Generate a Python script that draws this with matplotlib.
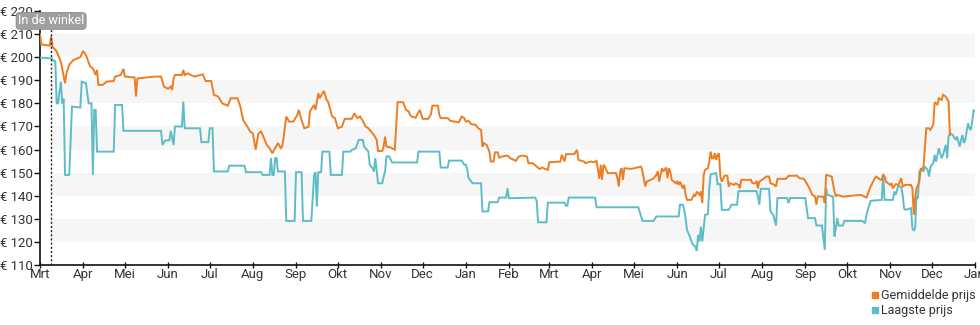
import numpy as np
import matplotlib
matplotlib.use("Agg")
import matplotlib.pyplot as plt
import matplotlib.dates as mdates
from matplotlib.lines import Line2D
from matplotlib.ticker import FuncFormatter

plt.rcParams['font.family'] = ['Roboto', 'DejaVu Sans']

# Price history, day offsets counted from the first day of tracking
start_date = np.datetime64('2023-03-01')
end_date = np.datetime64('2025-01-01')
store_day = 8  # product appeared "in de winkel"

avg_day = [0, 1, 7, 8, 9, 12, 15, 18, 19, 21, 24, 29, 31, 33, 36, 38, 40, 41, 42, 45, 48, 53, 54, 58,
           60, 61, 68, 69, 70, 83, 87, 89, 92, 94, 95, 96, 97, 102, 103, 104, 106, 111, 117, 119, 123,
           125, 128, 131, 135, 137, 142, 144, 146, 149, 151, 153, 155, 157, 159, 161, 163, 165, 167,
           169, 171, 173, 174, 175, 177, 179, 182, 185, 186, 188, 190, 193, 194, 197, 198, 200, 201,
           204, 206, 207, 210, 212, 214, 217, 219, 224, 226, 228, 230, 232, 234, 236, 238, 240, 242,
           243, 246, 247, 248, 249, 252, 255, 257, 261, 263, 265, 266, 267, 270, 271, 273, 275, 279,
           281, 282, 286, 287, 288, 293, 295, 301, 303, 305, 306, 308, 310, 313, 315, 317, 318, 319,
           321, 323, 324, 326, 327, 329, 330, 332, 336, 338, 339, 342, 344, 347, 350, 351, 354, 357,
           359, 361, 363, 365, 366, 374, 375, 377, 378, 384, 385, 386, 387, 391, 392, 396, 398, 400,
           402, 403, 404, 405, 406, 408, 414, 415, 416, 417, 418, 419, 420, 425, 429, 432, 433, 435,
           436, 439, 441, 443, 444, 445, 447, 448, 450, 451, 452, 453, 454, 457, 458, 459, 460, 462,
           463, 464, 465, 468, 469, 470, 471, 472, 474, 475, 476, 477, 478, 480, 481, 482, 483, 484,
           485, 486, 487, 488, 489, 490, 492, 494, 495, 496, 499, 500, 502, 503, 504, 511, 512, 514,
           515, 516, 517, 519, 522, 524, 525, 527, 529, 530, 536, 538, 544, 546, 549, 551, 553, 555,
           557, 558, 559, 561, 563, 564, 565, 567, 569, 571, 572, 573, 577, 590, 594, 597, 600, 601,
           604, 605, 606, 607, 608, 611, 612, 613, 615, 617, 619, 620, 622, 626, 627, 628, 629, 630,
           632, 633, 634, 635, 637, 639, 640, 642, 643, 644, 645, 646, 648, 649, 651, 653, 654]
avg_price = [210, 205.5, 205, 209, 204.5, 202.5, 198, 188.7, 193, 196.7, 198.8, 200, 202.7, 201, 196,
             195.2, 192.3, 194.5, 188, 188, 189.4, 189.7, 191.6, 192.3, 195, 191.6, 191.2, 183, 190.8,
             191.6, 191.6, 187.3, 186.3, 187.3, 185.8, 190.8, 192.3, 192.3, 194.5, 192.3, 193, 191.6,
             192.6, 189.7, 189.7, 183.7, 183, 180, 179, 182.2, 182.2, 178.6, 172.8, 170, 167.8, 167,
             159.9, 167, 167.8, 164.9, 162, 160.6, 158.4, 160.6, 162.8, 160.6, 161.3, 164.9, 174.3,
             172.1, 172.1, 175, 177.2, 172.8, 169.2, 169.9, 176.5, 179.3, 177.2, 184.4, 182.2, 185.4,
             181.5, 180.8, 174.3, 173.6, 169.2, 169.9, 173.3, 173.3, 175.7, 173.6, 174.3, 172.4, 170,
             169.2, 167.8, 166.3, 164.2, 159.4, 159.4, 161.3, 165.6, 161.3, 160.9, 159.9, 180.5,
             180.5, 177.2, 176.5, 175, 174.3, 173.8, 175, 177.2, 173.3, 173.3, 175.3, 179, 179, 175,
             173.6, 173.6, 172.4, 171.8, 174.3, 173.6, 172.1, 172.4, 171, 170.7, 169.2, 168.5, 161.3,
             162.8, 162, 159.1, 154.8, 154.8, 158.8, 158.8, 156.5, 157, 157.4, 156.2, 156, 155.1, 157,
             157.4, 157, 154.1, 154.1, 152.6, 151.6, 152.2, 151.6, 151.2, 154.5, 154.8, 157.7, 154.8,
             158, 158, 159.1, 159.8, 155.5, 154.8, 154.1, 154.8, 154.5, 155.1, 147.3, 153.4, 146.9,
             153.4, 152.6, 149.8, 149.8, 147.6, 144, 150.5, 151.9, 146.9, 151.9, 151.6, 152.2, 152.6,
             150.5, 144, 146.1, 146.9, 147.6, 149, 150.5, 146.1, 151.9, 150.5, 152.2, 147.6, 151.9,
             150.5, 146.9, 145.4, 146.1, 144.7, 146.1, 143.2, 144.7, 140.4, 138.2, 138.2, 139.2,
             140.4, 139.7, 141.8, 140.4, 141.8, 136.8, 149, 151.2, 151.9, 154.8, 159.1, 156.2, 156.2,
             158.4, 155.5, 157.7, 158.4, 148.3, 146.1, 148.7, 148.7, 144, 145.4, 144.7, 145.4, 144.7,
             143.2, 146.9, 146.9, 145.4, 145.4, 146.4, 143.2, 146.1, 146.9, 148.3, 148.3, 145.4, 145,
             144, 147.3, 147.3, 148.6, 148.7, 147.6, 147.3, 145.4, 143.2, 140.4, 139.7, 136.1, 139.7,
             139.6, 139.6, 136.8, 149, 148.7, 148.3, 141.8, 139.6, 140.4, 139.6, 140.4, 139.2, 144,
             147.6, 148.3, 146.9, 146.9, 149.3, 148.3, 146.1, 144.7, 145.4, 143.2, 145, 144.7, 147.6,
             144, 144.7, 144.7, 143.2, 131.7, 138.9, 143.2, 146.1, 151.9, 151.2, 152.6, 169.2, 169.2,
             168.5, 170.7, 180.5, 180, 179.3, 182.2, 181.5, 183.7, 182.9, 180.8, 166.3]

low_day = [0, 8, 10, 11, 12, 13, 15, 16, 17, 18, 21, 23, 29, 30, 33, 35, 37, 38, 39, 40, 41, 53, 54,
           59, 60, 87, 88, 90, 93, 94, 96, 97, 102, 103, 104, 115, 116, 121, 122, 124, 125, 135, 136,
           147, 148, 159, 160, 165, 166, 167, 168, 169, 170, 171, 176, 177, 183, 184, 188, 189, 195,
           197, 198, 199, 200, 202, 203, 208, 209, 217, 218, 223, 224, 227, 229, 232, 233, 235, 236,
           237, 239, 240, 241, 242, 243, 246, 247, 248, 249, 251, 253, 271, 272, 287, 288, 293, 294,
           303, 305, 306, 307, 308, 311, 317, 318, 322, 323, 329, 330, 335, 336, 337, 356, 357, 358,
           364, 365, 377, 378, 379, 380, 399, 400, 430, 433, 441, 443, 459, 460, 462, 463, 464, 465,
           467, 469, 471, 472, 473, 474, 475, 476, 477, 478, 480, 481, 482, 486, 487, 489, 490, 495,
           497, 501, 502, 515, 516, 517, 518, 524, 525, 527, 529, 530, 537, 538, 539, 550, 552, 557,
           558, 562, 564, 565, 566, 570, 571, 572, 573, 574, 577, 578, 591, 593, 594, 595, 597, 605,
           606, 607, 613, 614, 615, 616, 617, 619, 620, 621, 622, 626, 627, 628, 629, 630, 631, 632,
           634, 635, 636, 638, 639, 640, 642, 643, 644, 646, 648, 649, 651, 652, 653, 654, 656, 658,
           659, 661, 662, 663, 664, 665, 667, 668, 669, 670, 671, 672]
low_price = [199.8, 199.5, 198.4, 198.2, 180, 180, 189.4, 180, 182, 149, 149, 178.6, 178.2, 189.4,
             188.7, 180, 180, 149, 177.2, 177.2, 159.1, 159.1, 179.3, 179.3, 168.1, 168.1, 162, 164,
             164, 168.1, 162, 170, 170, 180.8, 169.2, 169.2, 163.2, 163.2, 169.2, 169.2, 150.5, 150.5,
             153, 153, 150.2, 150.2, 149, 149, 156.3, 149, 149, 156.3, 156.3, 150.5, 150.5, 129.1,
             129.1, 150.2, 150.2, 129.1, 129.1, 149, 150.2, 135.3, 150.2, 150.2, 159.1, 159.1, 149,
             149, 159.1, 159.1, 159.8, 160.6, 164.2, 164.2, 161.3, 159.8, 159.1, 153.4, 151.9, 150.5,
             156.3, 150.5, 145.4, 145.4, 148.3, 150.5, 157, 157, 154.4, 154.4, 159.1, 159.1, 152.2,
             152.2, 155.2, 155.2, 153.4, 153.4, 151.6, 147.6, 145.4, 145.4, 133.2, 133.2, 137.2,
             137.2, 139.2, 139.2, 143.2, 138.9, 139.2, 137.5, 128.5, 128.5, 137, 137, 135.7, 135.7,
             139.2, 139.2, 135, 135, 129.1, 129.1, 131, 131, 136.1, 136.1, 134, 130.3, 125.2, 122.3,
             119, 118, 116.2, 123.1, 120.2, 126.6, 120.2, 126, 131.7, 132, 143.2, 149.3, 149.8, 145,
             145, 133.9, 133.9, 136.1, 136.1, 142, 142, 139.6, 136.1, 143, 143, 133.2, 131.7, 127.1,
             139, 139, 136.8, 139, 139, 130.3, 130.3, 127.1, 127.1, 116.6, 143.2, 140.4, 139.6, 122.3,
             126, 130.3, 127.1, 127.1, 129.1, 129.1, 128.1, 131.7, 133.9, 137.8, 138.2, 149, 138.2,
             138.2, 141.8, 140.4, 142.5, 144.4, 143.5, 140.4, 134.6, 133.9, 134.6, 126, 124.8, 126,
             139.6, 138.9, 150.5, 151.2, 150.5, 152.6, 151.2, 148.3, 152.6, 154.1, 157.7, 154.8,
             160.6, 156.2, 157.7, 162, 156.2, 165.6, 167.1, 166.3, 164.2, 165.6, 161.3, 164.2, 166.3,
             162.8, 164.2, 171.4, 169.2, 168.5, 172.1, 177.2, 176.5]

y_ticks = list(range(110, 230, 10))
month_names = ['Jan', 'Feb', 'Mrt', 'Apr', 'Mei', 'Jun', 'Jul', 'Aug', 'Sep', 'Okt', 'Nov', 'Dec']
series_labels = ['Gemiddelde prijs', 'Laagste prijs']

AVG_COLOR = '#ee7d22'
LOW_COLOR = '#5dbdc7'
TEXT_COLOR = '#333333'

avg_dates = start_date + np.array(avg_day).astype('timedelta64[D]')
low_dates = start_date + np.array(low_day).astype('timedelta64[D]')
store_date = start_date + np.timedelta64(store_day, 'D')

fig = plt.figure(figsize=(9.8, 3.25), dpi=100)
ax = fig.add_axes([40 / 980, 60 / 325, 935 / 980, 254 / 325])

ax.set_xlim(start_date, end_date)
ax.set_ylim(110, 220)

# alternating horizontal bands, starting at the store date
total_days = (end_date - start_date).astype(int)
band_start = store_day / total_days
for lo in range(120, 220, 20):
    ax.axhspan(lo, lo + 10, xmin=band_start, xmax=1, color='#f6f6f6', lw=0, zorder=0)

ax.plot(low_dates, low_price, color=LOW_COLOR, lw=1.4, zorder=3, solid_joinstyle='miter')
ax.plot(avg_dates, avg_price, color=AVG_COLOR, lw=1.4, zorder=4, solid_joinstyle='miter')

ax.axvline(store_date, color='#222222', lw=1, ls=(0, (1.5, 1.5)), zorder=5)
ax.text(store_date, 215.7, 'In de winkel', ha='center', va='center', fontsize=9,
        color='white', zorder=6, clip_on=False,
        bbox=dict(boxstyle='round,pad=0.15,rounding_size=0.3', fc='#a0a0a0', ec='#8a8a8a', lw=0.6))

for side in ('top', 'right'):
    ax.spines[side].set_visible(False)
for side in ('left', 'bottom'):
    ax.spines[side].set_color('#111111')
    ax.spines[side].set_linewidth(1.2)

ax.set_yticks(y_ticks)
ax.yaxis.set_major_formatter(FuncFormatter(lambda v, p: f'€ {int(v)}'))
ax.xaxis.set_major_locator(mdates.MonthLocator())
ax.xaxis.set_major_formatter(FuncFormatter(lambda v, p: month_names[mdates.num2date(v).month - 1]))
ax.tick_params(axis='y', direction='out', length=4, width=1, color='#111111',
               labelsize=9.5, labelcolor=TEXT_COLOR, pad=1)
ax.tick_params(axis='x', direction='inout', length=5, width=1, color='#111111',
               labelsize=9.5, labelcolor=TEXT_COLOR, pad=0)

handles = [Line2D([], [], ls='none', marker='s', markersize=5, color=AVG_COLOR),
           Line2D([], [], ls='none', marker='s', markersize=5, color=LOW_COLOR)]
fig.legend(handles, series_labels, loc='upper left', bbox_to_anchor=(872 / 980, 1 - 289 / 325),
           frameon=False, fontsize=9, handlelength=0.5, handletextpad=0.25, labelspacing=0.15,
           borderpad=0, borderaxespad=0, labelcolor=TEXT_COLOR)

fig.savefig('out.png', dpi=100)
